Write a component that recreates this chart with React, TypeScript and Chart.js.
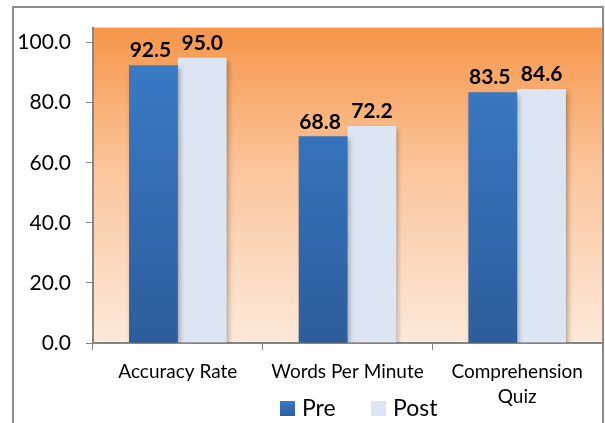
import React, { useEffect, useRef } from "react";
import { Chart, registerables } from "chart.js";

Chart.register(...registerables);

const categories: (string | string[])[] = ["Accuracy Rate", "Words Per Minute", ["Comprehension", "Quiz"]];
const preValues = [92.5, 68.8, 83.5];
const postValues = [95.0, 72.2, 84.6];
const seriesNames = ["Pre", "Post"];
const yTicks = [0, 20, 40, 60, 80, 100];

const FONT = "Lato, 'DejaVu Sans', sans-serif";

export default function App() {
  const ref = useRef<HTMLCanvasElement | null>(null);

  useEffect(() => {
    const canvas = ref.current;
    if (!canvas) return;

    const bgPlugin = {
      id: "bgPlugin",
      beforeDraw(chart: any) {
        const { ctx, chartArea } = chart;
        ctx.save();
        ctx.fillStyle = "#ffffff";
        ctx.fillRect(0, 0, chart.width, chart.height);
        const g = ctx.createLinearGradient(0, chartArea.top, 0, chartArea.bottom);
        g.addColorStop(0, "#f7964a");
        g.addColorStop(0.45, "#fbc59c");
        g.addColorStop(1, "#fde9d9");
        ctx.fillStyle = g;
        ctx.fillRect(chartArea.left, chartArea.top, chartArea.right - chartArea.left, chartArea.bottom - chartArea.top);
        ctx.strokeStyle = "#8c8c8c";
        ctx.lineWidth = 2;
        ctx.strokeRect(13, 7, 590, 440);
        ctx.restore();
      },
    };

    const shadowPlugin = {
      id: "shadowPlugin",
      beforeDatasetsDraw(chart: any) {
        const ctx = chart.ctx;
        ctx.save();
        ctx.shadowColor = "rgba(0,0,0,0.3)";
        ctx.shadowBlur = 5;
        ctx.shadowOffsetX = 2;
        ctx.shadowOffsetY = 3;
      },
      afterDatasetsDraw(chart: any) {
        chart.ctx.restore();
      },
    };

    const labelPlugin = {
      id: "labelPlugin",
      afterDatasetsDraw(chart: any) {
        const ctx = chart.ctx;
        ctx.save();
        ctx.font = `bold 21px ${FONT}`;
        ctx.fillStyle = "#000000";
        ctx.textAlign = "center";
        ctx.textBaseline = "bottom";
        chart.data.datasets.forEach((ds: any, di: number) => {
          const meta = chart.getDatasetMeta(di);
          meta.data.forEach((bar: any, i: number) => {
            const v = ds.data[i] as number;
            ctx.fillText(v.toFixed(1), bar.x - (di === 0 ? 3 : 0), bar.y - 4);
          });
        });
        ctx.restore();
      },
    };

    const legendPlugin = {
      id: "legendPlugin",
      afterDraw(chart: any) {
        const ctx = chart.ctx;
        ctx.save();
        ctx.font = `23px ${FONT}`;
        ctx.textBaseline = "middle";
        ctx.textAlign = "left";
        const y = 408;
        const xs = [280, 371];
        chart.data.datasets.forEach((ds: any, di: number) => {
          const x = xs[di];
          if (di === 0) {
            const g = ctx.createLinearGradient(0, y - 8, 0, y + 8);
            g.addColorStop(0, "#3a7cc8");
            g.addColorStop(1, "#2e5f9f");
            ctx.fillStyle = g;
          } else {
            ctx.fillStyle = "#dce6f2";
          }
          ctx.fillRect(x, y - 7, 15, 15);
          ctx.fillStyle = "#000000";
          ctx.fillText(ds.label, x + 22, y + 1);
        });
        ctx.restore();
      },
    };

    const chart = new Chart(canvas, {
      type: "bar",
      data: {
        labels: categories,
        datasets: [
          {
            label: seriesNames[0],
            data: preValues,
            backgroundColor: (c: any) => {
              const area = c.chart.chartArea;
              if (!area) return "#3a7cc8";
              const g = c.chart.ctx.createLinearGradient(0, area.top, 0, area.bottom);
              g.addColorStop(0, "#3b7ecb");
              g.addColorStop(1, "#2d5d9c");
              return g;
            },
            categoryPercentage: 0.575,
            barPercentage: 1,
          },
          {
            label: seriesNames[1],
            data: postValues,
            backgroundColor: "#dce6f2",
            categoryPercentage: 0.575,
            barPercentage: 1,
          },
        ],
      },
      options: {
        animation: false,
        responsive: true,
        maintainAspectRatio: false,
        layout: { padding: { top: 25, right: 3, left: 0, bottom: 0 } },
        plugins: {
          legend: { display: false },
          tooltip: { enabled: false },
        },
        scales: {
          x: {
            grid: {
              display: true,
              drawOnChartArea: false,
              drawTicks: true,
              tickLength: 7,
              color: "#868686",
              offset: true,
            },
            border: { display: true, color: "#868686", width: 2 },
            ticks: {
              color: "#000000",
              font: { family: FONT, size: 19, lineHeight: 1.3 },
              padding: 10,
              maxRotation: 0,
              autoSkip: false,
            },
            afterFit(scale: any) {
              scale.height = 80;
            },
          },
          y: {
            min: 0,
            max: 105,
            afterBuildTicks(scale: any) {
              scale.ticks = yTicks.map((v) => ({ value: v }));
            },
            grid: {
              display: true,
              drawOnChartArea: false,
              drawTicks: true,
              tickLength: 7,
              color: "#868686",
            },
            border: { display: true, color: "#868686", width: 2 },
            ticks: {
              color: "#000000",
              font: { family: FONT, size: 21 },
              padding: 15,
              callback: (v: any) => Number(v).toFixed(1),
            },
            afterFit(scale: any) {
              scale.width = 93;
            },
          },
        },
      },
      plugins: [bgPlugin, shadowPlugin, labelPlugin, legendPlugin],
    });

    return () => chart.destroy();
  }, []);

  return (
    <div style={{ position: "fixed", left: 0, top: 0, width: 605, height: 423, background: "#fff" }}>
      <canvas ref={ref} />
    </div>
  );
}
